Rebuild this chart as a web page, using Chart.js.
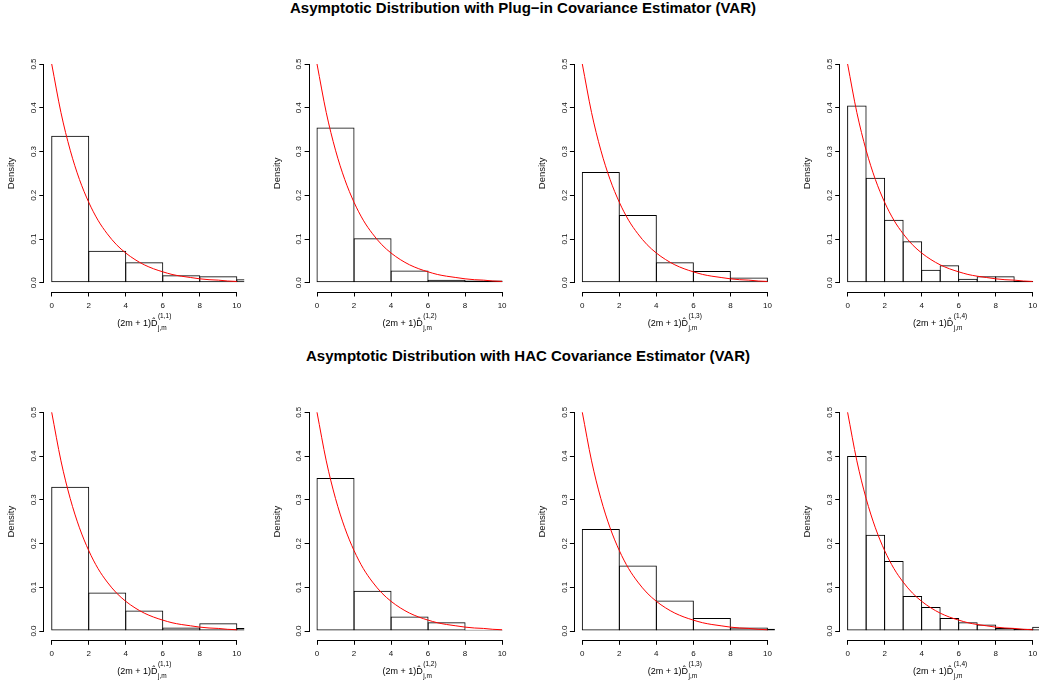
<!DOCTYPE html>
<html><head><meta charset="utf-8">
<script src="https://cdn.jsdelivr.net/npm/chart.js@4.4.1/dist/chart.umd.min.js"></script>
<style>
html,body{margin:0;padding:0;background:#fff;}
body{width:1039px;height:680px;overflow:hidden;position:relative;font-family:"Liberation Sans",Arial,sans-serif;color:#000;}
canvas{position:absolute;}
.title{position:absolute;font-weight:bold;font-size:15px;line-height:16px;white-space:nowrap;transform:translateX(-50%);}
.xl{position:absolute;font-size:9px;line-height:11px;white-space:nowrap;transform:translateX(-50%);}
.ss{display:inline-flex;flex-direction:column;vertical-align:middle;font-size:6.5px;line-height:7px;position:relative;top:-2px;gap:5px;margin-left:0.5px;}
</style></head><body>
<script>
// ---------- data ----------
const rowTitles = ["Asymptotic Distribution with Plug\u2212in Covariance Estimator (VAR)",
                   "Asymptotic Distribution with HAC Covariance Estimator (VAR)"];
const panelSup = ["(1,1)", "(1,2)", "(1,3)", "(1,4)"];
const yTitle = "Density";
const xTicks = [0, 2, 4, 6, 8, 10];
const yTicks = [0, 0.1, 0.2, 0.3, 0.4, 0.5];

// bin centres
const binsWidth2 = [1, 3, 5, 7, 9, 11];
const binsWidth1 = [0.5, 1.5, 2.5, 3.5, 4.5, 5.5, 6.5, 7.5, 8.5, 9.5, 10.5];

// histogram densities, plug-in estimator
const plugIn11 = [0.336, 0.073, 0.047, 0.017, 0.015, 0.008];
const plugIn12 = [0.355, 0.102, 0.028, 0.007, 0.005, 0];
const plugIn13 = [0.253, 0.155, 0.047, 0.027, 0.012, 0];
const plugIn14 = [0.405, 0.240, 0.144, 0.095, 0.030, 0.040, 0.009, 0.015, 0.015, 0.004];
// histogram densities, HAC estimator
const hac11 = [0.330, 0.088, 0.047, 0.008, 0.018, 0.007];
const hac12 = [0.350, 0.092, 0.033, 0.020, 0.003, 0];
const hac13 = [0.233, 0.150, 0.070, 0.030, 0.008, 0.005];
const hac14 = [0.400, 0.220, 0.160, 0.080, 0.055, 0.030, 0.020, 0.015, 0.007, 0.005, 0.010];

// red reference density curve
const curveX = [0, 0.5, 1, 1.5, 2, 2.5, 3, 3.5, 4, 4.5, 5, 5.5, 6, 6.5, 7, 7.5, 8, 8.5, 9, 9.5, 10];
const curveY = [0.500, 0.389, 0.303, 0.236, 0.184, 0.143, 0.112, 0.087, 0.068, 0.053, 0.041,
                0.032, 0.025, 0.019, 0.015, 0.012, 0.009, 0.007, 0.006, 0.004, 0.003];

const panels = [
  {row: 0, col: 0, bins: binsWidth2, vals: plugIn11, bw: 2},
  {row: 0, col: 1, bins: binsWidth2, vals: plugIn12, bw: 2},
  {row: 0, col: 2, bins: binsWidth2, vals: plugIn13, bw: 2},
  {row: 0, col: 3, bins: binsWidth1, vals: plugIn14, bw: 1},
  {row: 1, col: 0, bins: binsWidth2, vals: hac11, bw: 2},
  {row: 1, col: 1, bins: binsWidth2, vals: hac12, bw: 2},
  {row: 1, col: 2, bins: binsWidth2, vals: hac13, bw: 2},
  {row: 1, col: 3, bins: binsWidth1, vals: hac14, bw: 1}
];

// ---------- layout ----------
const COL_STEP = 265.3, ROW_STEP = 348.3;
const CW = 265, CH = 345;
const AREA_L = 44.3, AREA_R = 244.2, AREA_T = 55.25, AREA_B = 291.5;
const X_MIN = -0.4, X_MAX = 10.4, Y_MIN = -0.02, Y_MAX = 0.52;
const PX_PER_X = (AREA_R - AREA_L) / (X_MAX - X_MIN);

Chart.defaults.font.family = '"Liberation Sans", Arial, sans-serif';
Chart.defaults.color = '#000';
Chart.defaults.animation = false;

const axisLines = {
  id: 'axisLines',
  afterDraw(chart) {
    const {ctx, scales: {x, y}, chartArea: a} = chart;
    ctx.save();
    ctx.strokeStyle = '#000';
    ctx.lineWidth = 1;
    ctx.beginPath();
    const yb = Math.round(a.bottom) + 0.5;
    ctx.moveTo(x.getPixelForValue(xTicks[0]), yb);
    ctx.lineTo(x.getPixelForValue(xTicks[xTicks.length - 1]), yb);
    const xl = Math.round(a.left) - 0.5;
    ctx.moveTo(xl, y.getPixelForValue(yTicks[0]));
    ctx.lineTo(xl, y.getPixelForValue(yTicks[yTicks.length - 1]));
    ctx.stroke();
    ctx.restore();
  }
};

rowTitles.forEach((t, r) => {
  const d = document.createElement('div');
  d.className = 'title';
  d.textContent = t;
  d.style.left = (r === 0 ? 523 : 528) + 'px';
  d.style.top = (0 + r * ROW_STEP) + 'px';
  document.body.appendChild(d);
});

panels.forEach((p) => {
  const left = Math.floor(p.col * COL_STEP);
  const top = Math.floor(p.row * ROW_STEP);
  const fx = p.col * COL_STEP - left;
  const fy = p.row * ROW_STEP - top;
  const cv = document.createElement('canvas');
  cv.width = CW; cv.height = CH;
  cv.style.left = left + 'px'; cv.style.top = top + 'px';
  cv.style.width = CW + 'px'; cv.style.height = CH + 'px';
  document.body.appendChild(cv);

  const barPct = 1 + 1 / (p.bw * PX_PER_X);

  new Chart(cv.getContext('2d'), {
    data: {
      datasets: [
        {
          type: 'line',
          data: curveX.map((x, i) => ({x, y: curveY[i]})),
          borderColor: '#ff0000',
          borderWidth: 1,
          pointRadius: 0,
          cubicInterpolationMode: 'monotone',
          order: 0
        },
        {
          type: 'bar',
          data: p.bins.map((x, i) => ({x, y: p.vals[i]})).filter(d => d.y !== undefined),
          backgroundColor: 'rgba(0,0,0,0)',
          borderColor: '#000',
          borderWidth: 1,
          borderSkipped: false,
          barPercentage: barPct,
          categoryPercentage: 1,
          inflateAmount: 0,
          clip: 0,
          order: 1
        }
      ]
    },
    options: {
      responsive: false,
      animation: false,
      events: [],
      layout: {padding: {left: fx, top: AREA_T + fy, right: CW - AREA_R - fx, bottom: 0}},
      plugins: {legend: {display: false}, tooltip: {enabled: false}},
      scales: {
        x: {
          type: 'linear', min: X_MIN, max: X_MAX, offset: false,
          afterBuildTicks: s => { s.ticks = xTicks.map(v => ({value: v})); },
          afterFit: s => { s.height = CH - AREA_B - fy; },
          grid: {display: true, offset: false, drawOnChartArea: false, drawTicks: true, tickLength: 5, color: '#000', lineWidth: 1},
          border: {display: false},
          ticks: {font: {size: 8}, color: '#111', padding: 4, maxRotation: 0, minRotation: 0, autoSkip: false,
                  callback: v => String(v)}
        },
        y: {
          type: 'linear', min: Y_MIN, max: Y_MAX, offset: false,
          afterBuildTicks: s => { s.ticks = yTicks.map(v => ({value: v})); },
          afterFit: s => { s.width = AREA_L; },
          grid: {display: true, offset: false, drawOnChartArea: false, drawTicks: true, tickLength: 5, color: '#000', lineWidth: 1},
          border: {display: false},
          title: {display: true, text: yTitle, font: {size: 9.5}, color: '#111', padding: {top: 6, bottom: 0}},
          ticks: {font: {size: 8}, color: '#111', padding: 0, minRotation: 90, maxRotation: 90,
                  crossAlign: 'center', autoSkip: false, callback: v => v.toFixed(1)}
        }
      }
    },
    plugins: [axisLines]
  });

  // x-axis title with plotmath-like layout
  const xl = document.createElement('div');
  xl.className = 'xl';
  const cx = p.col * COL_STEP + AREA_L + (5 - X_MIN) * PX_PER_X;
  xl.style.left = cx + 'px';
  xl.style.top = (314 + p.row * ROW_STEP) + 'px';
  xl.innerHTML = '(2m + 1)D\u0302<span class="ss"><span>' + panelSup[p.col] + '</span><span>j,m</span></span>';
  document.body.appendChild(xl);
});
</script>
</body></html>
